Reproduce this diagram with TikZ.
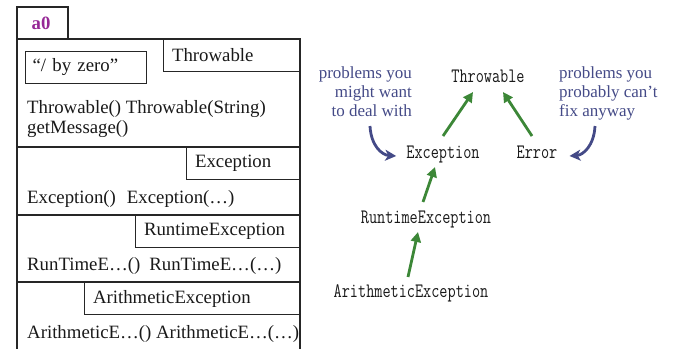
\documentclass[tikz,border=0pt]{standalone}
\usepackage{fontspec}
\setmainfont{Liberation Serif}
\usetikzlibrary{arrows.meta,calc}
\definecolor{purp}{RGB}{150,40,150}
\definecolor{navy}{RGB}{68,74,135}
\definecolor{grn}{RGB}{60,135,55}
\definecolor{ink}{RGB}{25,25,25}
\newcommand{\tw}[1]{\scalebox{1}[1.3]{#1}}
\begin{document}
\begin{tikzpicture}[x=1pt,y=-1pt,
  frame/.style={line width=1.1pt, draw=black!85},
  lbl/.style={draw=black!85, line width=1.1pt, anchor=north west, minimum height=32pt, inner xsep=8.5pt, inner ysep=0pt, align=left, text=ink, font=\fontsize{18.8}{22}\selectfont},
  body/.style={anchor=base west, inner sep=0pt, text=ink, font=\fontsize{18.8}{22}\selectfont},
  cls/.style={anchor=base, inner sep=0pt, text=ink, font=\fontsize{15.8}{18}\ttfamily\addfontfeature{FakeBold=1.1}},
  note/.style={inner sep=0pt, text=navy, font=\fontsize{17}{19}\selectfont},
  garrow/.style={draw=grn, line width=2.8pt, -{Triangle[length=10pt,width=10pt]}},
  barrow/.style={draw=navy, line width=2.8pt, -{Stealth[length=11pt,width=11pt,inset=3pt]}}
]
\useasboundingbox (0,0) rectangle (674,349);

% left object diagram
\draw[frame] (68,39) -- (68,7) -- (17,7) -- (17,349);
\draw[frame] (17,39) -- (300,39) -- (300,349);
\draw[frame] (17,147) -- (300,147);
\draw[frame] (17,215) -- (300,215);
\draw[frame] (17,282) -- (300,282);

\node[anchor=base, text=purp, inner sep=0pt, font=\bfseries\fontsize{18.8}{22}\selectfont] (a0) at (41,29) {a0};

\node[lbl, text width=120pt] (lthr) at (163,39) {Throwable};
\node[lbl, text width=107pt, inner xsep=7pt] (msg) at (25,50.5) {“/ by zero”};
\node[body] (t1) at (27,113) {Throwable() Throwable(String)};
\node[body] (t2) at (27,133) {getMessage()};

\node[lbl, text width=97pt] (lexc) at (186,147) {Exception};
\node[body] (e1) at (27,203) {Exception()\hspace{11pt}Exception(…)};

\node[lbl, text width=148pt] (lrt) at (135,215) {RuntimeException};
\node[body] (r1) at (27,270) {RunTimeE…()\hspace{9pt}RunTimeE…(…)};

\node[lbl, text width=199pt] (lar) at (84,282) {ArithmeticException};
\node[body] (ar1) at (27,338) {ArithmeticE…() ArithmeticE…(…)};

% right hierarchy
\node[cls] (thr) at (488,82) {\tw{Throwable}};
\node[cls] (exc) at (443,158) {\tw{Exception}};
\node[cls] (err) at (537,158) {\tw{Error}};
\node[cls] (rt) at (426,223) {\tw{RuntimeException}};
\node[cls] (ar) at (411,297) {\tw{ArithmeticException}};

\node[note, anchor=north east, align=right] (lnote) at (412,66) {problems you\\might want\\to deal with};
\node[note, anchor=north west, align=left] (rnote) at (559,66) {problems you\\probably can’t\\fix anyway};

\draw[garrow] ($(exc.base)+(0,-22)$) -- ($(thr.base)+(-15,10)$);
\draw[garrow] ($(err.base)+(-5,-22)$) -- ($(thr.base)+(15,10)$);
\draw[garrow] ($(rt.base)+(-3,-21)$) -- ($(exc.base)+(-8,9)$);
\draw[garrow] ($(ar.base)+(-3,-20)$) -- ($(rt.base)+(-8,9)$);

\coordinate (ls) at (370,126);
\coordinate (rs) at (595,126);
\draw[barrow] (ls) .. controls (371,146) and (382,155) .. ($(exc.base west)+(-10,-2)$);
\draw[barrow] (rs) .. controls (594,146) and (583,155) .. ($(err.base east)+(12,-2)$);
\end{tikzpicture}
\end{document}
